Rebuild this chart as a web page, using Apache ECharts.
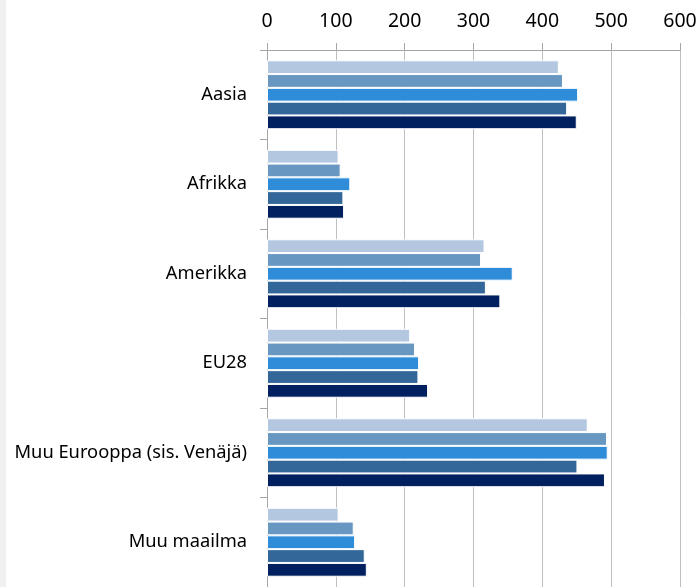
<!DOCTYPE html>
<html>
<head>
<meta charset="utf-8">
<script src="https://cdn.jsdelivr.net/npm/echarts@6/dist/echarts.min.js"></script>
<style>
html,body{margin:0;padding:0;background:#fff;}
#chart{width:700px;height:587px;}
</style>
</head>
<body>
<div id="chart"></div>
<script>
const categories = ["Aasia", "Afrikka", "Amerikka", "EU28", "Muu Eurooppa (sis. Venäjä)", "Muu maailma"];
const series1 = [424, 104, 316, 208, 466, 104];
const series2 = [430, 107, 311, 215, 494, 126];
const series3 = [452, 121, 357, 221, 495, 128];
const series4 = [436, 111, 318, 220, 451, 142];
const series5 = [450, 112, 339, 234, 491, 145];
const xTicks = [0, 100, 200, 300, 400, 500, 600];

const seriesValues = [series1, series2, series3, series4, series5];
const colors = ["#b3c8e0", "#6898c2", "#2f8cd9", "#336699", "#012060"];

const chart = echarts.init(document.getElementById('chart'));
const fontFamily = "'Noto Sans', 'DejaVu Sans', sans-serif";
chart.setOption({
  animation: false,
  backgroundColor: '#ffffff',
  graphic: [{
    type: 'rect', left: 0, top: 0,
    shape: {width: 6, height: 587},
    style: {fill: '#f0f0f0'}
  }],
  grid: {left: 267, top: 50, width: 413, height: 539, containLabel: false},
  xAxis: {
    type: 'value', position: 'top',
    min: xTicks[0], max: xTicks[xTicks.length - 1], interval: 100,
    axisLine: {show: true, lineStyle: {color: '#a6a6a6', width: 1}},
    axisTick: {show: true, length: 7, lineStyle: {color: '#a6a6a6'}},
    splitLine: {show: true, lineStyle: {color: '#bfbfbf', width: 1}},
    axisLabel: {color: '#000', fontSize: 19.5, fontFamily: fontFamily, margin: 19}
  },
  yAxis: {
    type: 'category', inverse: true, data: categories,
    axisLine: {show: true, lineStyle: {color: '#a6a6a6', width: 1}},
    axisTick: {show: true, length: 7, lineStyle: {color: '#a6a6a6'}},
    axisLabel: {color: '#000', fontSize: 18.3, fontFamily: fontFamily, margin: 20, padding: [6, 0, 0, 0]}
  },
  series: seriesValues.map((vals, i) => ({
    type: 'bar',
    name: 'S' + (i + 1),
    data: vals,
    barGap: '0%',
    barCategoryGap: '23%',
    itemStyle: {color: colors[i], borderColor: '#ffffff', borderWidth: 1}
  }))
});
</script>
</body>
</html>
